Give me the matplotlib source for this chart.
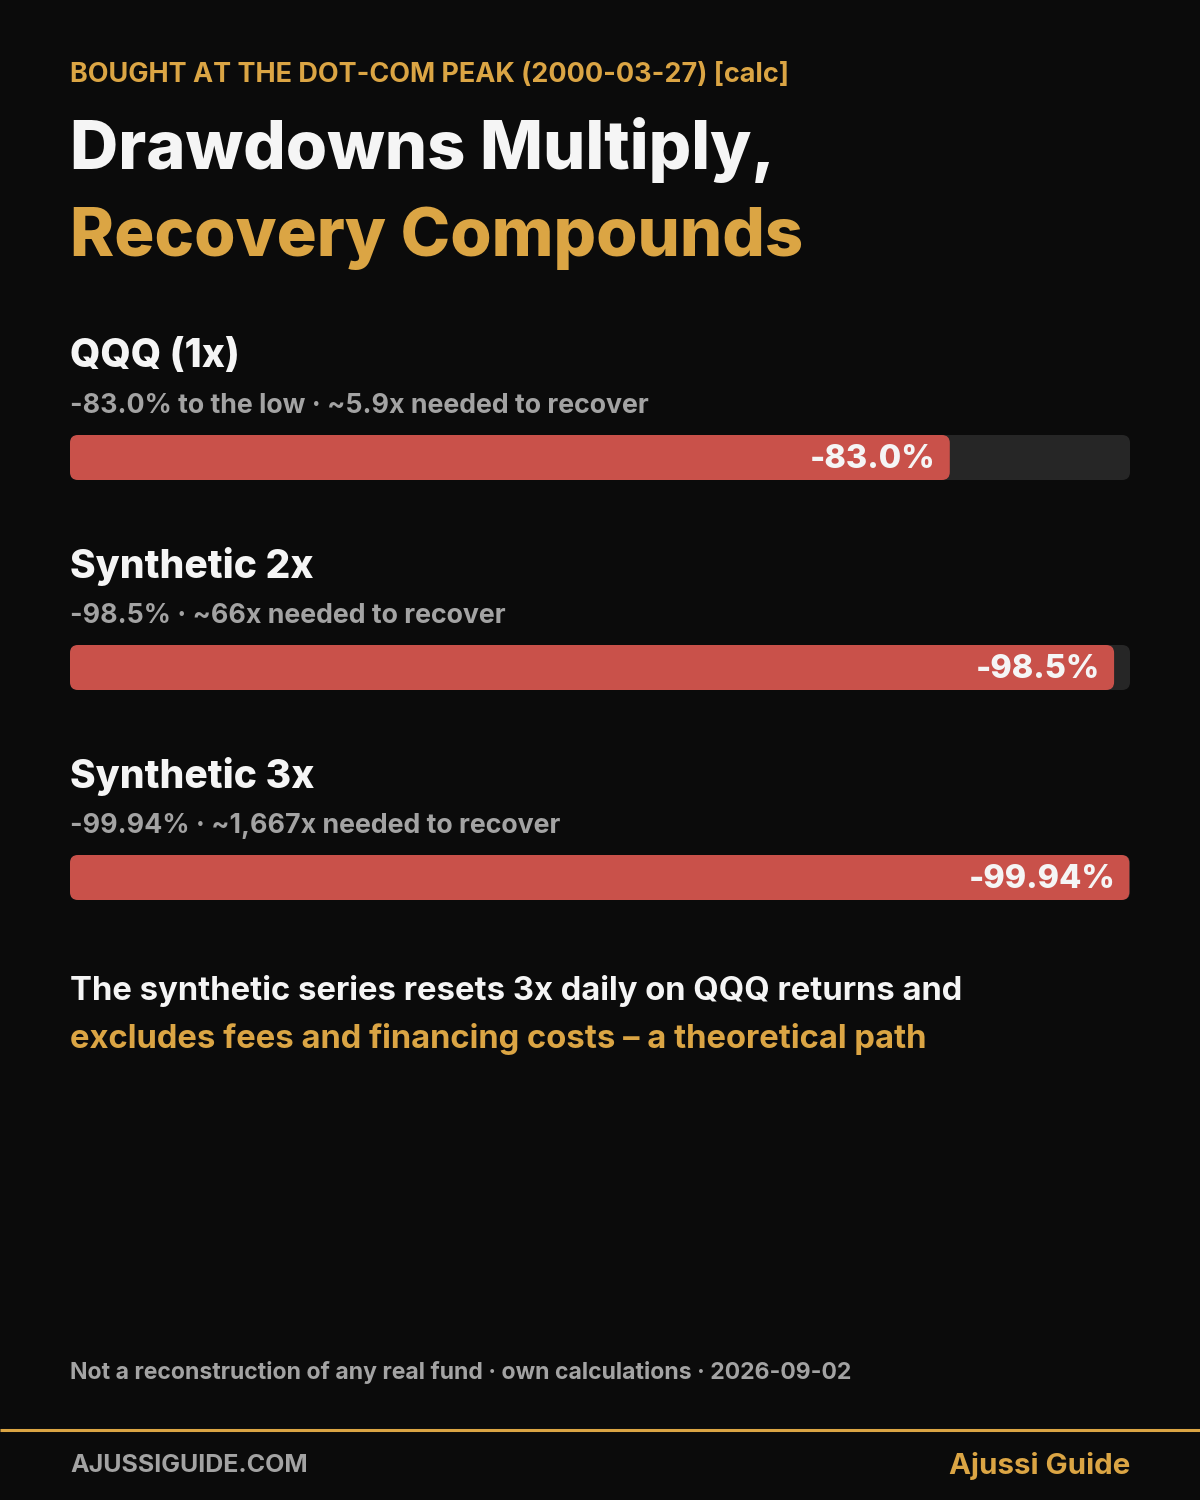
import matplotlib
matplotlib.use('Agg')
import matplotlib.pyplot as plt
from matplotlib.patches import FancyBboxPatch

# data
names = ['QQQ (1x)', 'Synthetic 2x', 'Synthetic 3x']
drawdowns = [83.0, 98.5, 99.94]
bar_labels = ['-83.0%', '-98.5%', '-99.94%']
subtitles = ['-83.0% to the low \u00b7 ~5.9x needed to recover',
             '-98.5% \u00b7 ~66x needed to recover',
             '-99.94% \u00b7 ~1,667x needed to recover']

BG = '#0b0b0b'
GOLD = '#dba544'
RED = '#c9514a'
TRACK = '#262626'
GRAY = '#a3a3a3'
WHITE = '#f5f5f5'

plt.rcParams['font.family'] = ['Inter', 'DejaVu Sans']

fig = plt.figure(figsize=(12, 15), dpi=100)
fig.patch.set_facecolor(BG)
ax = fig.add_axes([0, 0, 1, 1])
ax.set_facecolor(BG)
ax.set_xlim(0, 1200)
ax.set_ylim(1500, 0)
ax.axis('off')

def px(p):
    return p * 0.72

ax.text(70, 75, 'BOUGHT AT THE DOT-COM PEAK (2000-03-27) [calc]', color=GOLD,
        fontsize=px(27), fontweight=700, va='center', ha='left')
ax.text(70, 150, 'Drawdowns Multiply,', color=WHITE, fontsize=px(66.8),
        fontweight=800, va='center', ha='left')
ax.text(70, 238, 'Recovery Compounds', color=GOLD, fontsize=px(66.8),
        fontweight=800, va='center', ha='left')

x0, x1 = 70, 1130
bar_h = 45
for i, (nm, dd, lab, sub) in enumerate(zip(names, drawdowns, bar_labels, subtitles)):
    top = 435 + 210 * i
    ax.text(70, top - 78, nm, color=WHITE, fontsize=px(39), fontweight=800,
            va='center', ha='left')
    ax.text(70, top - 29, sub, color=GRAY, fontsize=px(26.8), fontweight=700,
            va='center', ha='left')
    ax.add_patch(FancyBboxPatch((x0, top), x1 - x0, bar_h,
                                boxstyle='round,pad=0,rounding_size=8',
                                fc=TRACK, ec='none'))
    w = (x1 - x0) * dd / 100
    ax.add_patch(FancyBboxPatch((x0, top), w, bar_h,
                                boxstyle='round,pad=0,rounding_size=8',
                                fc=RED, ec='none'))
    ax.text(x0 + w - 14, top + bar_h / 2 + 2, lab, color=WHITE, fontsize=px(32.5),
            fontweight=800, va='center', ha='right')

ax.text(70, 991, 'The synthetic series resets 3x daily on QQQ returns and',
        color=WHITE, fontsize=px(32.8), fontweight=700, va='center', ha='left')
ax.text(70, 1039, 'excludes fees and financing costs \u2013 a theoretical path',
        color=GOLD, fontsize=px(32.8), fontweight=700, va='center', ha='left')

ax.text(70, 1372, 'Not a reconstruction of any real fund \u00b7 own calculations \u00b7 2026-09-02',
        color=GRAY, fontsize=px(23), fontweight=700, va='center', ha='left')

ax.plot([0, 1200], [1430, 1430], color=GOLD, lw=2.2, solid_capstyle='butt')
ax.text(70, 1466, 'AJUSSIGUIDE.COM', color=GRAY, fontsize=px(25),
        fontweight=700, va='center', ha='left')
ax.text(1130, 1466, 'Ajussi Guide', color=GOLD, fontsize=px(29.5),
        fontweight=700, va='center', ha='right')

fig.savefig('out.png', dpi=100, facecolor=BG)
